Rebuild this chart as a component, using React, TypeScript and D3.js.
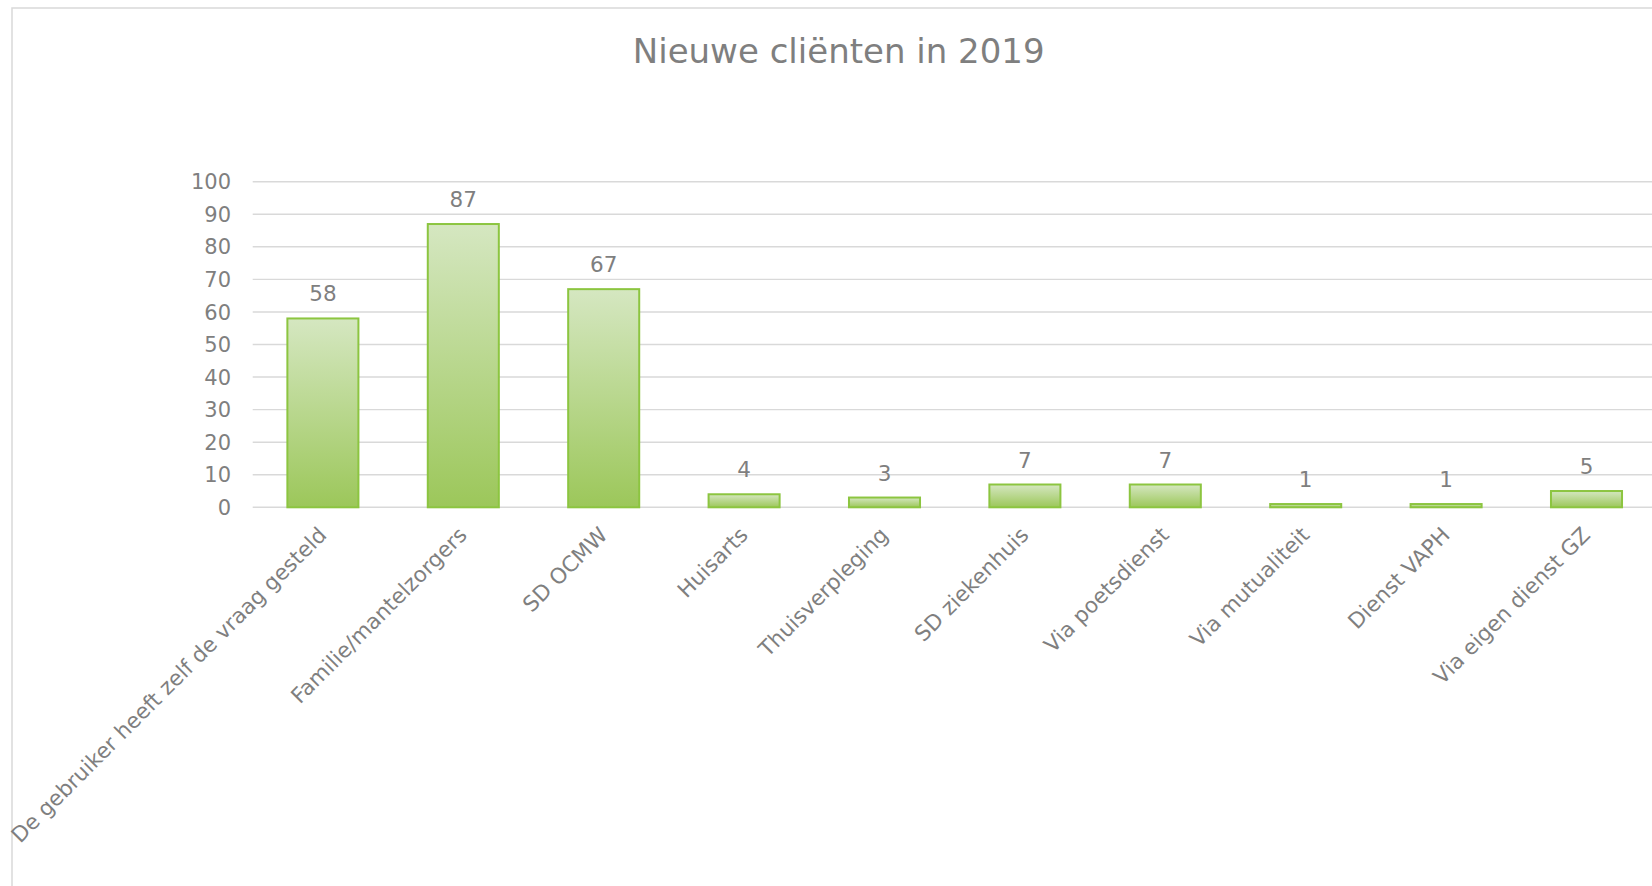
import React from "react";
import * as d3 from "d3";

const categories = [
  "De gebruiker heeft zelf de vraag gesteld",
  "Familie/mantelzorgers",
  "SD OCMW",
  "Huisarts",
  "Thuisverpleging",
  "SD ziekenhuis",
  "Via poetsdienst",
  "Via mutualiteit",
  "Dienst VAPH",
  "Via eigen dienst GZ",
];
const values = [58, 87, 67, 4, 3, 7, 7, 1, 1, 5];
const yTicks = [0, 10, 20, 30, 40, 50, 60, 70, 80, 90, 100];
const title = "Nieuwe cliënten in 2019";

const W = 1652;
const H = 886;
const plotLeft = 252.7;
const plotTop = 181.7;
const plotBottom = 507.3;
const step = 140.4;
const FONT = "'DejaVu Sans', Verdana, sans-serif";
const TEXT = "#7f7f7f";
const GRID = "#d9d9d9";

export default function App() {
  const x = d3
    .scaleBand<string>()
    .domain(categories)
    .range([plotLeft, plotLeft + step * categories.length])
    .paddingInner(0.494)
    .paddingOuter(0.247);
  const y = d3.scaleLinear().domain([0, 100]).range([plotBottom, plotTop]);
  const gridRight = plotLeft + step * categories.length;

  return (
    <div style={{ position: "fixed", left: 0, top: 0, width: W, height: H, background: "#fff" }}>
      <svg width={W} height={H} style={{ display: "block" }}>
        <defs>
          <linearGradient id="barGrad" x1="0" y1="0" x2="0" y2="1">
            <stop offset="0" stopColor="#d5e7c1" />
            <stop offset="1" stopColor="#9cc75a" />
          </linearGradient>
        </defs>
        <rect x={12} y={8} width={W + 20} height={H + 20} fill="#fff" stroke={GRID} strokeWidth={1.5} />
        <text
          x={838.7}
          y={63.3}
          textAnchor="middle"
          fontFamily={FONT}
          fontSize={34}
          fill={TEXT}
        >
          {title}
        </text>
        {yTicks.map((t) => (
          <g key={t}>
            <line x1={plotLeft} x2={gridRight} y1={y(t)} y2={y(t)} stroke={GRID} strokeWidth={1.4} />
            <text
              x={231}
              y={y(t)}
              dy="0.36em"
              textAnchor="end"
              fontFamily={FONT}
              fontSize={21}
              fill={TEXT}
            >
              {t}
            </text>
          </g>
        ))}
        {categories.map((c, i) => {
          const bx = x(c)!;
          const bw = x.bandwidth();
          const top = y(values[i]);
          const cx = bx + bw / 2;
          return (
            <g key={c}>
              <rect
                x={bx}
                y={top}
                width={bw}
                height={plotBottom - top}
                fill="url(#barGrad)"
                stroke="#8cc540"
                strokeWidth={2}
              />
              <text
                x={cx}
                y={top - 17}
                textAnchor="middle"
                fontFamily={FONT}
                fontSize={21.5}
                fill={TEXT}
              >
                {values[i]}
              </text>
              <text
                transform={`translate(${cx + 5},${plotBottom + 29}) rotate(-45)`}
                textAnchor="end"
                fontFamily={FONT}
                fontSize={21.5}
                fill={TEXT}
              >
                {c}
              </text>
            </g>
          );
        })}
      </svg>
    </div>
  );
}
